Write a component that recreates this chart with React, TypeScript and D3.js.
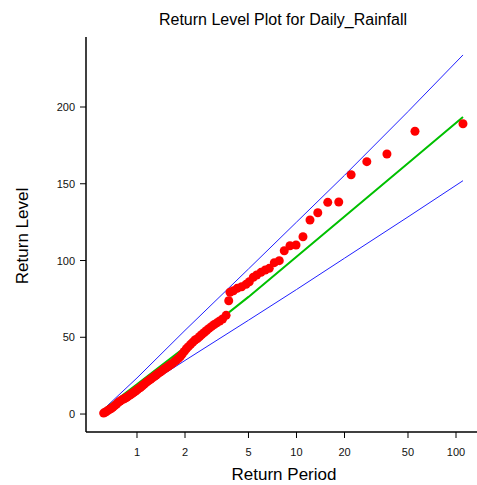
import * as d3 from "d3";

// return periods and return levels of the ordered observations
const periods: number[] = [
  110.6, 55.3, 36.9, 27.6, 22.0, 18.4, 15.7, 13.6, 12.15, 10.98,
  9.93, 9.1, 8.38, 7.8, 7.26, 6.75, 6.37, 5.99, 5.63, 5.36,
  5.06, 4.83, 4.53, 4.25, 4.02, 3.83, 3.76, 3.62, 3.44, 3.3,
  3.17, 3.05, 2.94, 2.83, 2.73, 2.64, 2.55, 2.47, 2.39, 2.31,
  2.24, 2.17, 2.1, 2.04, 1.98, 1.92, 1.87, 1.82, 1.77, 1.72,
  1.67, 1.63, 1.58, 1.54, 1.5, 1.46, 1.42, 1.39, 1.35, 1.32,
  1.29, 1.25, 1.22, 1.19, 1.16, 1.135, 1.108, 1.081, 1.054, 1.029,
  1.004, 0.98, 0.956, 0.933, 0.91, 0.888, 0.866, 0.845, 0.824, 0.804,
  0.784, 0.764, 0.745, 0.726, 0.707, 0.689, 0.671, 0.653, 0.635, 0.618,
];
const levels: number[] = [
  189.1, 184.2, 169.4, 164.4, 155.9, 138.1, 137.9, 131.1, 126.4, 115.5,
  110.1, 109.6, 106.4, 99.9, 98.6, 94.9, 93.8, 92.3, 90.6, 89.1,
  86.2, 84.5, 82.9, 81.9, 80.3, 79.3, 73.8, 64.3, 61.9, 60.6,
  59.4, 58.3, 57.1, 55.8, 54.4, 53.1, 51.8, 50.5, 49.1, 48.2,
  46.8, 45.4, 43.9, 42.5, 40.8, 39.0, 37.4, 36.3, 35.2, 34.1,
  33.0, 32.3, 31.3, 30.5, 29.7, 28.8, 27.8, 27.1, 26.2, 25.4,
  24.6, 23.6, 22.8, 22.0, 21.1, 20.3, 19.4, 18.4, 17.4, 16.7,
  15.8, 15.0, 14.2, 13.4, 12.6, 11.8, 11.0, 10.4, 9.8, 9.2,
  8.5, 7.6, 6.5, 5.5, 4.5, 3.6, 2.9, 2.1, 1.3, 0.6,
];

// fitted return level curve with its confidence bounds
const curvePeriods: number[] = [0.62, 1, 2, 5, 10, 20, 50, 110.6];
const fitLevels: number[] = [3.0, 19.3, 43.5, 76.3, 102.5, 128.7, 163.3, 193.5];
const upperLevels: number[] = [3.3, 23.5, 54.5, 94.5, 125.0, 155.5, 197.0, 233.9];
const lowerLevels: number[] = [1.0, 14.8, 34.9, 61.1, 81.1, 101.5, 128.4, 152.0];

const xTicks: number[] = [1, 2, 5, 10, 20, 50, 100];
const yTicks: number[] = [0, 50, 100, 150, 200];

const W = 477;
const H = 485;
const left = 86;
const right = 477;
const top = 37;
const bottom = 432;
const font = "'Liberation Sans', Arial, sans-serif";

export default function App() {
  const x = d3.scaleLog().domain([0.479, 135.4]).range([left, right]);
  const y = d3.scaleLinear().domain([-11.7, 245.6]).range([bottom, top]);

  const line = (vals: number[]) =>
    d3
      .line<number>()
      .x((_, i) => x(curvePeriods[i]))
      .y((d) => y(d))(vals) || "";

  return (
    <svg
      width={W}
      height={H}
      style={{ position: "absolute", left: 0, top: 0, background: "#fff" }}
      fontFamily={font}
    >
      <text x={283} y={25} fontSize={16} textAnchor="middle" fill="#000">
        Return Level Plot for Daily_Rainfall
      </text>

      {/* axes */}
      <line x1={left} x2={left} y1={top} y2={bottom} stroke="#000" strokeWidth={1.5} />
      <line x1={left} x2={right} y1={bottom} y2={bottom} stroke="#000" strokeWidth={1.5} />
      {yTicks.map((t) => (
        <g key={"y" + t}>
          <line x1={left - 6} x2={left} y1={y(t)} y2={y(t)} stroke="#000" strokeWidth={1} />
          <text x={left - 11} y={y(t) + 4} fontSize={11} textAnchor="end" fill="#111">
            {t}
          </text>
        </g>
      ))}
      {xTicks.map((t) => (
        <g key={"x" + t}>
          <line x1={x(t)} x2={x(t)} y1={bottom} y2={bottom + 6} stroke="#000" strokeWidth={1} />
          <text x={x(t)} y={bottom + 24} fontSize={11} textAnchor="middle" fill="#111">
            {t}
          </text>
        </g>
      ))}
      <text x={284} y={480} fontSize={17} textAnchor="middle" fill="#000">
        Return Period
      </text>
      <text
        transform="translate(28,236) rotate(-90)"
        fontSize={17}
        textAnchor="middle"
        fill="#000"
      >
        Return Level
      </text>

      {/* curves */}
      <path d={line(upperLevels)} fill="none" stroke="#2020ff" strokeWidth={1} />
      <path d={line(lowerLevels)} fill="none" stroke="#2020ff" strokeWidth={1} />
      <path d={line(fitLevels)} fill="none" stroke="#00c000" strokeWidth={2} />

      {/* observations */}
      {periods.map((p, i) => (
        <circle key={i} cx={x(p)} cy={y(levels[i])} r={4.5} fill="#ff0000" />
      ))}
    </svg>
  );
}
